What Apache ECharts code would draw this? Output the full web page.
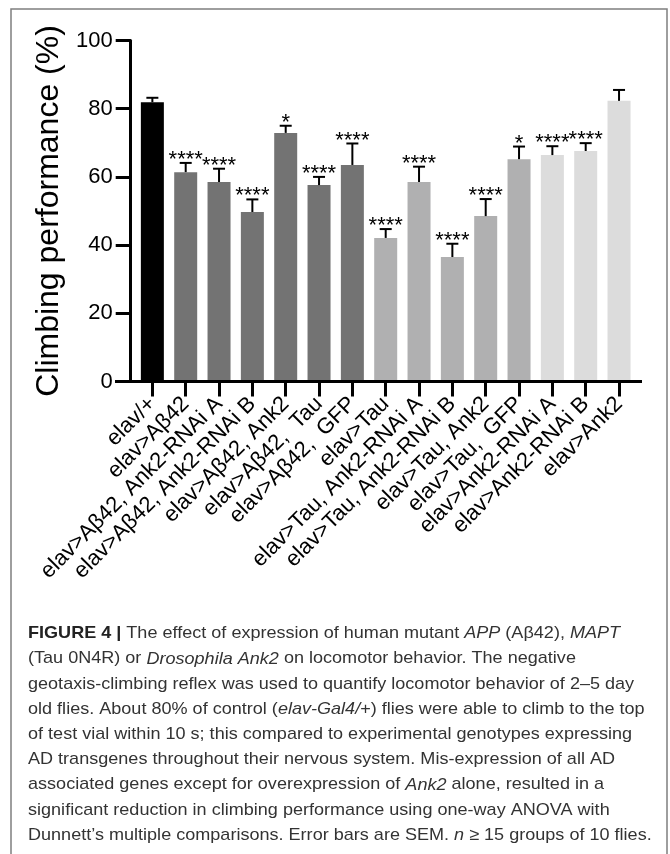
<!DOCTYPE html>
<html>
<head>
<meta charset="utf-8">
<script src="https://cdn.jsdelivr.net/npm/echarts@6/dist/echarts.min.js"></script>
<style>
html,body{margin:0;padding:0;background:#fff;}
#chart{width:670px;height:854px;}
</style>
</head>
<body>
<div id="chart"></div>
<script>
const categories = ['elav/+','elav>Aβ42','elav>Aβ42, Ank2-RNAi A','elav>Aβ42, Ank2-RNAi B','elav>Aβ42, Ank2','elav>Aβ42,  Tau','elav>Aβ42,  GFP','elav>Tau','elav>Tau, Ank2-RNAi A','elav>Tau, Ank2-RNAi B','elav>Tau, Ank2','elav>Tau,  GFP','elav>Ank2-RNAi A','elav>Ank2-RNAi B','elav>Ank2'];
const values = [81.9, 61.4, 58.5, 49.7, 72.9, 57.6, 63.5, 42.1, 58.5, 36.5, 48.5, 65.2, 66.4, 67.6, 82.3];
const sem = [1.3, 2.7, 3.9, 3.7, 2.1, 2.4, 6.3, 2.6, 4.5, 3.9, 5.0, 3.7, 2.6, 2.3, 3.2];
const stars = ['', '****', '****', '****', '*', '****', '****', '****', '****', '****', '****', '*', '****', '****', ''];
const yTicks = [0, 20, 40, 60, 80, 100];
const groupOf = [0, 1, 1, 1, 1, 1, 1, 2, 2, 2, 2, 2, 3, 3, 3];
const groupColors = ['#000000', '#737373', '#b0b0b1', '#dcdcdc'];

const captionLines = [
  '{b|FIGURE 4 |} The effect of expression of human mutant {i|APP} (Aβ42), {i|MAPT}',
  '(Tau 0N4R) or {i|Drosophila Ank2} on locomotor behavior. The negative',
  'geotaxis-climbing reflex was used to quantify locomotor behavior of 2–5 day',
  'old flies. About 80% of control ({i|elav-Gal4/}+) flies were able to climb to the top',
  'of test vial within 10 s; this compared to experimental genotypes expressing',
  'AD transgenes throughout their nervous system. Mis-expression of all AD',
  'associated genes except for overexpression of {i|Ank2} alone, resulted in a',
  'significant reduction in climbing performance using one-way ANOVA with',
  'Dunnett’s multiple comparisons. Error bars are SEM. {i|n} ≥ 15 groups of 10 flies.'
];

const chart = echarts.init(document.getElementById('chart'), null, {renderer: 'canvas'});
const FONT = 'Liberation Sans, Arial, Helvetica, sans-serif';
const gridLeft = 135.7, gridRight = 34.3, gridTop = 40.5, gridBottom = 472.5;

const option = {
  animation: false,
  backgroundColor: '#ffffff',
  grid: {left: gridLeft, right: gridRight, top: gridTop, bottom: gridBottom, containLabel: false},
  xAxis: {
    type: 'category',
    data: categories,
    axisLine: {show: false},
    axisTick: {show: true, alignWithLabel: true, length: 15, lineStyle: {color: '#000', width: 3}},
    axisLabel: {rotate: 45, interval: 0, margin: 19, color: '#000', fontSize: 22, fontFamily: FONT},
    splitLine: {show: false}
  },
  yAxis: {
    type: 'value',
    min: yTicks[0],
    max: yTicks[yTicks.length - 1],
    interval: yTicks[1] - yTicks[0],
    offset: 5,
    name: 'Climbing performance (%)',
    nameLocation: 'middle',
    nameGap: 66,
    nameTextStyle: {fontSize: 32, color: '#000', fontFamily: FONT},
    axisLine: {show: true, lineStyle: {color: '#000', width: 3}},
    axisTick: {show: true, length: 15, lineStyle: {color: '#000', width: 3}},
    axisLabel: {margin: 18, color: '#000', fontSize: 22, fontFamily: FONT},
    splitLine: {show: false}
  },
  series: [
    {
      type: 'bar',
      barWidth: 23,
      data: values.map((v, i) => ({value: v, itemStyle: {color: groupColors[groupOf[i]]}})),
      z: 2
    },
    {
      type: 'custom',
      z: 3,
      data: values.map((v, i) => [i, v, sem[i]]),
      encode: {x: 0, y: 1},
      renderItem: function (params, api) {
        const i = api.value(0);
        const v = api.value(1);
        const e = api.value(2);
        const p0 = api.coord([i, v]);
        const p1 = api.coord([i, v + e]);
        const children = [
          {type: 'line', shape: {x1: p0[0], y1: p0[1], x2: p1[0], y2: p1[1]}, style: {stroke: '#000', lineWidth: 2}},
          {type: 'line', shape: {x1: p1[0] - 6, y1: p1[1], x2: p1[0] + 6, y2: p1[1]}, style: {stroke: '#000', lineWidth: 2}}
        ];
        const s = stars[params.dataIndex];
        if (s) {
          children.push({type: 'text', style: {text: s, x: p1[0], y: p1[1] - 3, align: 'center', verticalAlign: 'middle', fontSize: 22, fontFamily: FONT, fill: '#000'}});
        }
        return {type: 'group', children: children};
      }
    }
  ],
  graphic: [
    {type: 'rect', shape: {x: 11, y: 9, width: 656, height: 870}, style: {fill: 'none', stroke: '#7f7f7f', lineWidth: 1.5}, silent: true},
    {type: 'text', x: 28, y: 621, scaleX: 1.062, style: {
      text: captionLines.join('\n'),
      x: 0, y: 0, align: 'left', verticalAlign: 'top',
      fontSize: 17, lineHeight: 25.2, fontFamily: FONT, fill: '#333333',
      rich: {
        b: {fontWeight: 'bold', fontSize: 17, lineHeight: 25.2, fontFamily: FONT, fill: '#222'},
        i: {fontStyle: 'italic', fontSize: 17, lineHeight: 25.2, fontFamily: FONT, fill: '#333333'}
      }
    }}
  ]
};
chart.setOption(option);

// x axis baseline, extended past the band like the original
const y0 = chart.convertToPixel({yAxisIndex: 0}, 0);
chart.setOption({graphic: option.graphic.concat([
  {type: 'line', shape: {x1: gridLeft - 20.7, y1: y0, x2: 670 - gridRight + 6.3, y2: y0}, style: {stroke: '#000', lineWidth: 3}, z: 10}
])});
</script>
</body>
</html>
